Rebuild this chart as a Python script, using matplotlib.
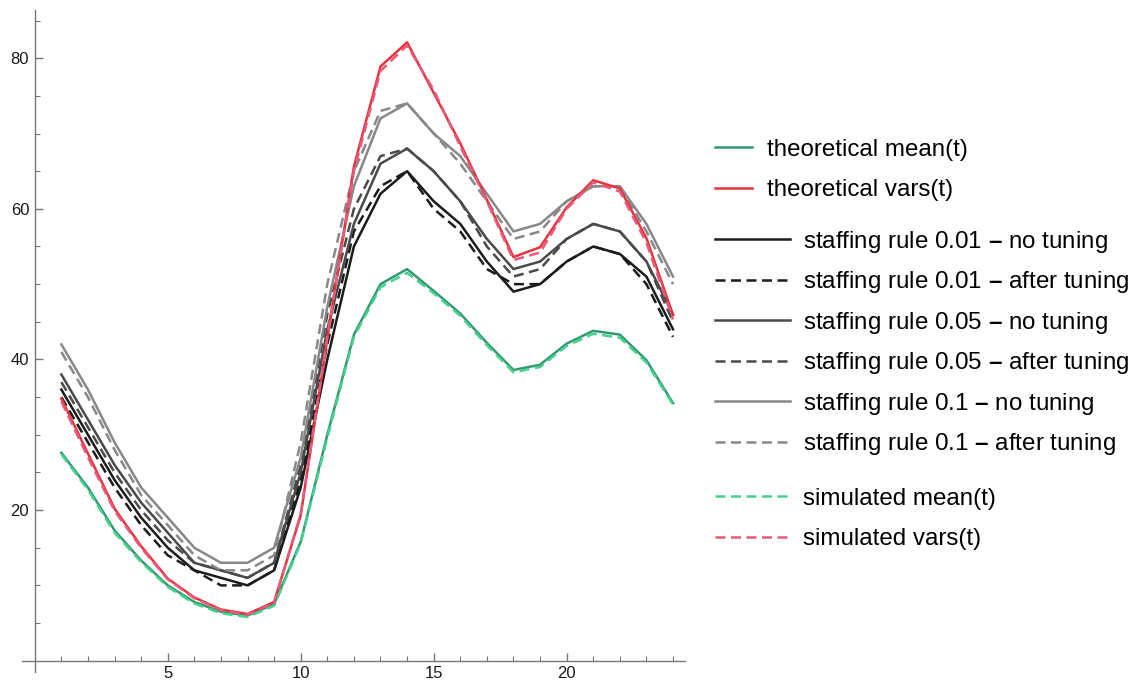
import matplotlib
matplotlib.use("Agg")
import matplotlib.pyplot as plt
from matplotlib.ticker import FixedLocator

plt.rcParams['font.family'] = ['Liberation Sans', 'DejaVu Sans']
plt.rcParams['mathtext.fontset'] = 'custom'
plt.rcParams['mathtext.rm'] = 'Liberation Sans'
plt.rcParams['mathtext.bf'] = 'Liberation Sans:bold'

# hour of the day
hours = list(range(1, 25))

# theoretical / simulated moments
theo_mean = [27.6, 23.0, 17.3, 13.3, 10.0, 7.8, 6.5, 6.0, 7.5, 15.8, 30.0, 43.3,
             50.0, 52.0, 49.1, 46.1, 42.2, 38.6, 39.3, 42.1, 43.8, 43.3, 39.9, 34.2]
sim_mean = [27.4, 22.7, 17.0, 13.1, 9.8, 7.6, 6.3, 5.8, 7.3, 15.6, 29.6, 43.0,
            49.6, 51.5, 48.8, 45.8, 41.9, 38.3, 39.0, 41.8, 43.4, 42.9, 39.6, 34.0]
theo_vars = [34.8, 27.5, 20.2, 15.2, 10.9, 8.4, 6.8, 6.2, 7.8, 19.3, 42.7, 65.6,
             78.9, 82.1, 75.4, 68.7, 61.2, 53.6, 54.9, 60.2, 63.8, 62.7, 56.1, 45.9]
sim_vars = [34.4, 27.0, 19.9, 15.0, 10.8, 8.3, 6.7, 6.1, 7.7, 19.5, 43.0, 65.0,
            78.3, 81.7, 75.8, 68.3, 61.0, 53.2, 54.2, 60.0, 63.5, 62.3, 55.5, 45.3]

# staffing levels
rule001_no = [36, 30, 24, 19, 15, 12, 11, 10, 12, 23, 40, 55,
              62, 65, 61, 58, 53, 49, 50, 53, 55, 54, 51, 44]
rule001_tuned = [35, 29, 23, 18, 14, 12, 10, 10, 12, 24, 42, 57,
                 63, 65, 60, 57, 52, 50, 50, 53, 55, 54, 50, 43]
rule005_no = [38, 32, 26, 21, 17, 13, 12, 11, 13, 25, 44, 58,
              66, 68, 65, 61, 56, 52, 53, 56, 58, 57, 53, 46]
rule005_tuned = [37, 31, 25, 20, 16, 13, 12, 11, 13, 26, 46, 60,
                 67, 68, 65, 61, 55, 51, 52, 56, 58, 57, 53, 45]
rule01_no = [42, 36, 29, 23, 19, 15, 13, 13, 15, 27, 47, 63,
             72, 74, 70, 67, 62, 57, 58, 61, 63, 63, 58, 51]
rule01_tuned = [41, 35, 28, 22, 18, 14, 12, 12, 14, 29, 50, 65,
                73, 74, 70, 66, 61, 56, 57, 61, 63, 63, 57, 50]

DASH = (4.0, 2.2)
LW = 1.8
SEP = ' $\\mathbf{\u2013}$ '

fig = plt.figure(figsize=(11.38, 6.86), dpi=100)
ax = fig.add_axes([22 / 1138, 14 / 686, 663 / 1138, 662 / 686])

staff = [
    (rule001_no, '#1c1c1c', False, 'staffing rule 0.01' + SEP + 'no tuning'),
    (rule001_tuned, '#1c1c1c', True, 'staffing rule 0.01' + SEP + 'after tuning'),
    (rule005_no, '#4a4a4a', False, 'staffing rule 0.05' + SEP + 'no tuning'),
    (rule005_tuned, '#4a4a4a', True, 'staffing rule 0.05' + SEP + 'after tuning'),
    (rule01_no, '#888888', False, 'staffing rule 0.1' + SEP + 'no tuning'),
    (rule01_tuned, '#888888', True, 'staffing rule 0.1' + SEP + 'after tuning'),
]
staff_lines = []
for vals, col, dashed, lab in staff:
    ln, = ax.plot(hours, vals, color=col, lw=LW, label=lab)
    if dashed:
        ln.set_dashes(DASH)
    staff_lines.append(ln)

l_mean, = ax.plot(hours, theo_mean, color='#339970', lw=LW, label='theoretical mean(t)')
l_vars, = ax.plot(hours, theo_vars, color='#e8333f', lw=LW, label='theoretical vars(t)')
l_smean, = ax.plot(hours, sim_mean, color='#45d18f', lw=LW, dashes=DASH, label='simulated mean(t)')
l_svars, = ax.plot(hours, sim_vars, color='#e85b7c', lw=LW, dashes=DASH, label='simulated vars(t)')

# Mathematica style axes through the origin
ax.set_xlim(-0.48, 24.45)
ax.set_ylim(-1.5, 86.4)
for side in ['top', 'right']:
    ax.spines[side].set_visible(False)
for side in ['left', 'bottom']:
    ax.spines[side].set_position(('data', 0))
    ax.spines[side].set_color('#777777')
    ax.spines[side].set_linewidth(1.0)

ax.xaxis.set_major_locator(FixedLocator([5, 10, 15, 20]))
ax.xaxis.set_minor_locator(FixedLocator([h for h in hours if h % 5]))
ax.yaxis.set_major_locator(FixedLocator([20, 40, 60, 80]))
ax.yaxis.set_minor_locator(FixedLocator([v for v in range(5, 90, 5) if v % 20]))
ax.tick_params(which='both', direction='in', color='#777777', labelcolor='#1a1a1a', labelsize=12)
ax.tick_params(which='major', length=5.5, width=1.0, pad=4)
ax.tick_params(which='minor', length=3.5, width=0.8)

common = dict(frameon=False, fontsize=17.4, borderpad=0, borderaxespad=0,
              loc='center left', bbox_transform=fig.transFigure)
leg1 = ax.legend(handles=[l_mean, l_vars], handlelength=1.53, handletextpad=0.62,
                 labelspacing=0.75, bbox_to_anchor=(715 / 1138, 1 - 170 / 686), **common)
ax.add_artist(leg1)
leg2 = ax.legend(handles=staff_lines, handlelength=3.1, handletextpad=0.54,
                 labelspacing=0.6, bbox_to_anchor=(715 / 1138, 1 - 343 / 686), **common)
ax.add_artist(leg2)
leg3 = ax.legend(handles=[l_smean, l_svars], handlelength=3.1, handletextpad=0.54,
                 labelspacing=0.75, bbox_to_anchor=(715 / 1138, 1 - 519 / 686), **common)

fig.savefig('out.png', dpi=100)
